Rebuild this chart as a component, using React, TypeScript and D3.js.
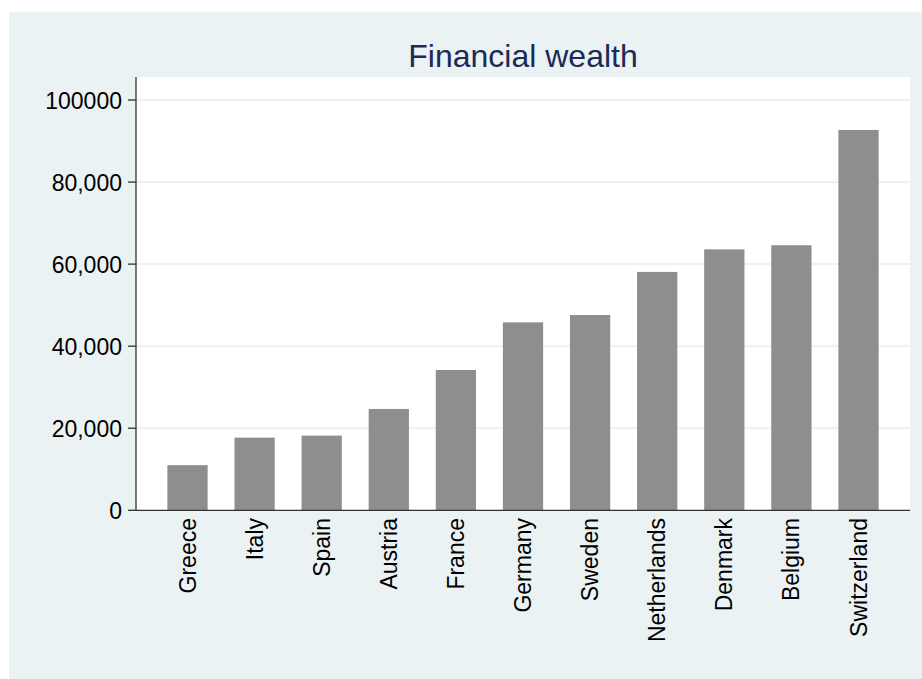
import React from "react";
import * as d3 from "d3";

const countries = ["Greece", "Italy", "Spain", "Austria", "France", "Germany", "Sweden", "Netherlands", "Denmark", "Belgium", "Switzerland"];
const wealth = [11000, 17700, 18200, 24700, 34200, 45800, 47600, 58100, 63600, 64600, 92700];
const yTicks = [0, 20000, 40000, 60000, 80000, 100000];
const yTickLabels = ["0", "20,000", "40,000", "60,000", "80,000", "100000"];
const title = "Financial wealth";

const W = 922;
const H = 679;
const plot = { left: 136, right: 910, top: 77, bottom: 510.3 };
const FONT = "'Liberation Sans', Arial, Helvetica, sans-serif";

export default function App() {
  const x = d3
    .scaleBand<string>()
    .domain(countries)
    .range([plot.left, plot.right])
    .paddingInner(0.4)
    .paddingOuter(0.4675);
  const y = d3.scaleLinear().domain([0, 100000]).range([plot.bottom, 100]);

  return (
    <div style={{ position: "absolute", left: 0, top: 0 }}>
      <svg width={W} height={H} style={{ display: "block" }}>
        <rect x={0} y={0} width={W} height={H} fill="#ffffff" />
        <rect x={9} y={12} width={W - 9} height={H - 12} fill="#eaf2f3" />
        <rect
          x={plot.left}
          y={plot.top}
          width={plot.right - plot.left}
          height={plot.bottom - plot.top}
          fill="#ffffff"
        />
        {yTicks
          .filter((t) => t > 0)
          .map((t) => (
            <line
              key={"g" + t}
              x1={plot.left}
              x2={plot.right}
              y1={y(t)}
              y2={y(t)}
              stroke="#eaf2f3"
              strokeWidth={2}
            />
          ))}
        {countries.map((c, i) => (
          <rect
            key={c}
            x={x(c)!}
            y={y(wealth[i])}
            width={x.bandwidth()}
            height={y(0) - y(wealth[i])}
            fill="#8e8e8e"
          />
        ))}
        <line x1={plot.left} x2={plot.left} y1={plot.top} y2={plot.bottom} stroke="#333" strokeWidth={1.3} />
        <line x1={plot.left} x2={plot.right} y1={plot.bottom} y2={plot.bottom} stroke="#333" strokeWidth={1.3} />
        {yTicks.map((t, i) => (
          <g key={"t" + t}>
            <line x1={plot.left - 8} x2={plot.left} y1={y(t)} y2={y(t)} stroke="#333" strokeWidth={1.3} />
            <text
              x={122}
              y={y(t) + 9}
              textAnchor="end"
              fontFamily={FONT}
              fontSize={23}
              fill="#000"
            >
              {yTickLabels[i]}
            </text>
          </g>
        ))}
        {countries.map((c) => {
          const cx = x(c)! + x.bandwidth() / 2;
          return (
            <text
              key={"l" + c}
              transform={`translate(${cx},${518}) rotate(-90)`}
              textAnchor="end"
              dy="0.35em"
              fontFamily={FONT}
              fontSize={23}
              fill="#000"
            >
              {c}
            </text>
          );
        })}
        <text
          x={(plot.left + plot.right) / 2}
          y={67}
          textAnchor="middle"
          fontFamily={FONT}
          fontSize={32}
          fill="#1c2a55"
        >
          {title}
        </text>
      </svg>
    </div>
  );
}
